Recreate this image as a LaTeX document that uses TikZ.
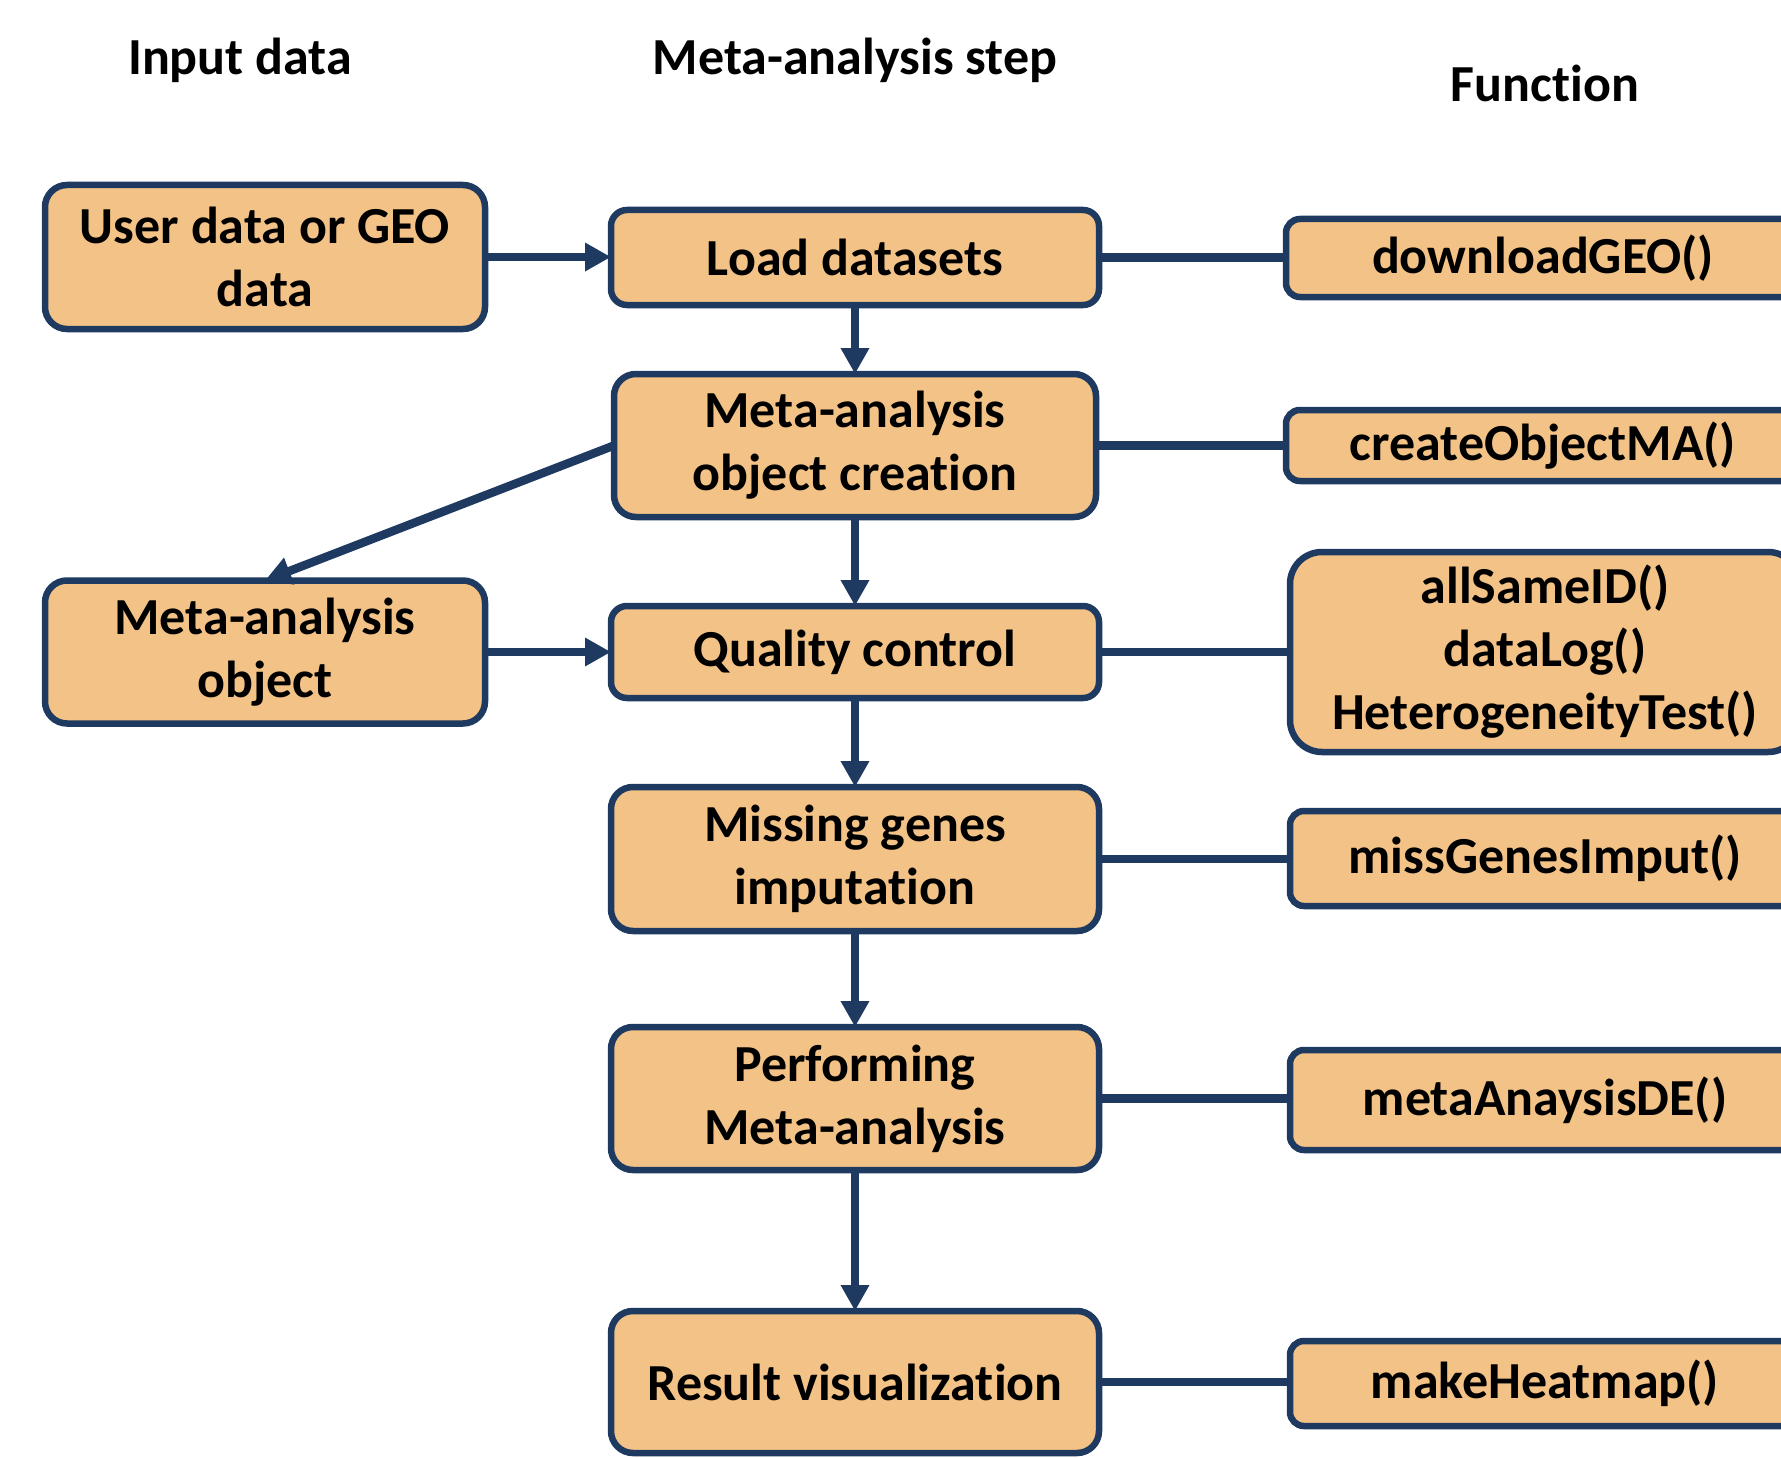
\documentclass[tikz,border=0pt]{standalone}
\usepackage{fontspec}
\setmainfont{Carlito}[Ligatures=NoCommon]
\usetikzlibrary{arrows.meta}
\definecolor{boxfill}{RGB}{243,194,134}
\definecolor{navy}{RGB}{30,58,96}
\begin{document}
\begin{tikzpicture}[x=1pt,y=-1pt,
  txt/.style={font=\fontsize{52}{63}\selectfont\bfseries, text=black, align=center},
  box/.style={txt, draw=navy, line width=6.5pt, fill=boxfill, rounded corners=22pt,
              inner sep=0pt, outer sep=0pt, rectangle},
  fbox/.style={box, rounded corners=14pt},
  conn/.style={draw=navy, line width=8.5pt},
  arr/.style={conn, -{Triangle[length=26pt,width=27pt]}}
]
\useasboundingbox (0,0) rectangle (1781,1458);
\clip (0,0) rectangle (1781,1458);
% headers
\node[txt] (h1) at (240,60) {Input data};
\node[txt] (h2) at (855,60) {Meta-analysis step};
\node[txt] (h3) at (1545,83) {Function};
% left column
\node[box, minimum width=440pt, minimum height=144pt] (user) at (265,257) {User data or GEO\\data};
\node[box, minimum width=440pt, minimum height=143pt] (obj) at (265,652) {Meta-analysis\\object};
% middle column
\node[box, minimum width=488pt, minimum height=95pt, rounded corners=16pt] (load) at (855,257.5) {Load datasets};
\node[box, minimum width=482pt, minimum height=143pt] (create) at (855,445.5) {Meta-analysis\\object creation};
\node[box, minimum width=488pt, minimum height=92pt, rounded corners=16pt] (qc) at (855,652) {Quality control};
\node[box, minimum width=488pt, minimum height=144pt] (miss) at (855,859) {Missing genes\\imputation};
\node[box, minimum width=488pt, minimum height=143pt] (perf) at (855,1098.5) {Performing\\Meta-analysis};
\node[box, minimum width=488pt, minimum height=142pt] (res) at (855,1382) {Result visualization};
% right column
\node[fbox, minimum width=514pt, minimum height=78pt] (dl) at (1543,258) {downloadGEO()};
\node[fbox, minimum width=514pt, minimum height=71pt] (cr) at (1543,445.5) {createObjectMA()};
\node[box, minimum width=510pt, minimum height=200pt, rounded corners=32pt] (qcf) at (1545,652) {allSameID()\\dataLog()\\HeterogeneityTest()};
\node[fbox, minimum width=510pt, minimum height=95pt] (mg) at (1545,858.5) {missGenesImput()};
\node[fbox, minimum width=510pt, minimum height=100pt] (md) at (1545,1100) {metaAnaysisDE()};
\node[fbox, minimum width=510pt, minimum height=85pt] (mh) at (1545,1383.5) {makeHeatmap()};
% arrows
\draw[arr] (user.east) -- (load.west |- user.east);
\draw[arr] (obj.east) -- (qc.west |- obj.east);
\draw[arr] (load) -- (create);
\draw[arr] (create) -- (qc);
\draw[arr] (qc) -- (miss);
\draw[arr] (miss) -- (perf);
\draw[arr] (perf) -- (res);
\draw[arr] (create.west) -- (obj.north);
% function links
\draw[conn] (load.east) -- (dl.west |- load.east);
\draw[conn] (create.east) -- (cr.west |- create.east);
\draw[conn] (qc.east) -- (qcf.west |- qc.east);
\draw[conn] (miss.east) -- (mg.west |- miss.east);
\draw[conn] (perf.east) -- (md.west |- perf.east);
\draw[conn] (res.east) -- (mh.west |- res.east);
\end{tikzpicture}
\end{document}
